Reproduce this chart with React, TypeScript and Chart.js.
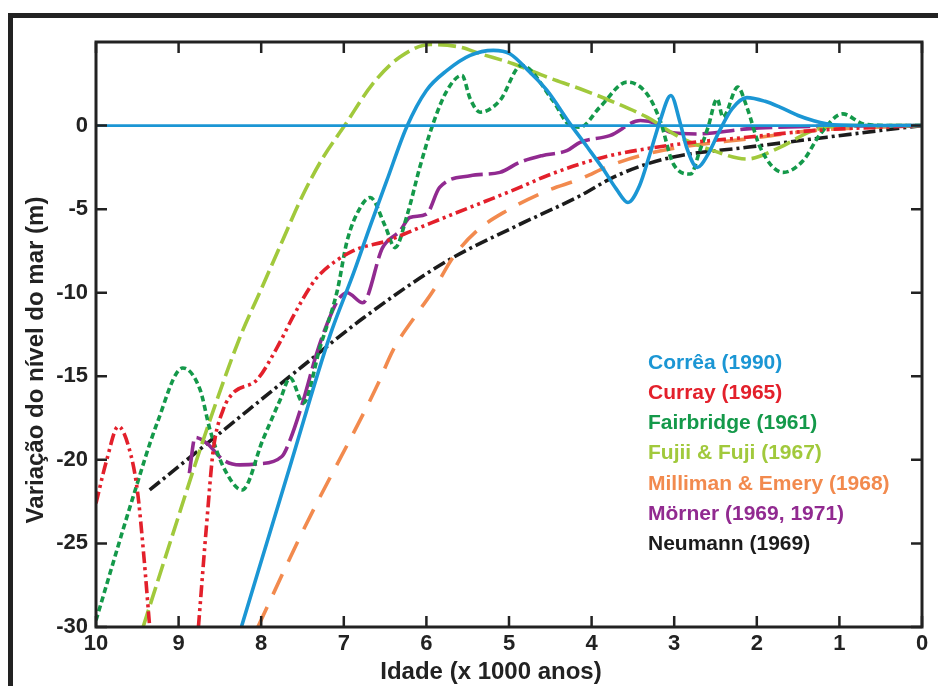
import React, { useEffect, useRef } from 'react';
import { Chart, registerables } from 'chart.js';

Chart.register(...registerables);

// ---------- data ----------
const SERIES_NAMES = [
  'Corrêa (1990)',
  'Curray (1965)',
  'Fairbridge (1961)',
  'Fujii & Fuji (1967)',
  'Milliman & Emery (1968)',
  'Mörner (1969, 1971)',
  'Neumann (1969)',
];

const X_TICKS = [10, 9, 8, 7, 6, 5, 4, 3, 2, 1, 0];
const Y_TICKS = [0, -5, -10, -15, -20, -25, -30];

const CORREA_AGE = [8.24, 7.64, 7.17, 6.88, 6.68, 6.48, 6.24, 6.0, 5.75, 5.47, 5.19, 4.99, 4.75, 4.54, 4.26, 4.05, 3.86, 3.7, 3.56, 3.42, 3.3, 3.17, 3.04, 2.93, 2.85, 2.72, 2.6, 2.45, 2.3, 2.12, 1.9, 1.72, 1.5, 1.32, 1.08, 0.6, 0];
const CORREA_LEVEL = [-30, -20.2, -12.6, -8.8, -6.0, -3.3, -0.1, 2.1, 3.3, 4.2, 4.5, 4.3, 3.2, 2.1, 0.1, -1.3, -2.6, -3.8, -4.6, -3.6, -1.8, 0.3, 1.8, 0.2, -1.3, -2.5, -1.8, -0.3, 1.0, 1.67, 1.45, 1.1, 0.6, 0.3, 0.05, 0, 0];

const CURRAY_AGE = [10, 9.87, 9.73, 9.6, 9.5, 9.42, 9.35, 9.0, 8.76, 8.66, 8.58, 8.46, 8.34, 8.05, 7.81, 7.6, 7.4, 7.29, 6.89, 6.48, 6.08, 5.68, 5.27, 4.87, 4.54, 4.14, 3.78, 2.93, 2.12, 1.32, 0];
const CURRAY_LEVEL = [-22.6, -20.0, -18.0, -19.3, -21.8, -25.8, -30, null, -30, -23.8, -19.4, -17.0, -16.0, -15.2, -13.3, -11.3, -9.6, -8.9, -7.5, -6.9, -6.1, -5.3, -4.5, -3.7, -3.0, -2.3, -1.8, -1.1, -0.7, -0.3, 0];

const FAIRBRIDGE_AGE = [10, 9.55, 9.26, 8.95, 8.74, 8.62, 8.46, 8.23, 7.98, 7.77, 7.65, 7.49, 7.29, 7.08, 6.96, 6.8, 6.68, 6.5, 6.38, 6.23, 6.08, 5.92, 5.75, 5.57, 5.47, 5.35, 5.11, 4.85, 4.47, 4.26, 4.14, 3.9, 3.57, 3.33, 3.17, 3.01, 2.8, 2.69, 2.59, 2.48, 2.41, 2.23, 2.12, 1.96, 1.68, 1.44, 1.23, 0.96, 0.71, 0.4, 0];
const FAIRBRIDGE_LEVEL = [-29.6, -22.2, -17.8, -14.5, -15.8, -18.2, -20.4, -21.8, -18.8, -16.4, -15.1, -16.6, -13.3, -9.9, -6.9, -4.9, -4.3, -6.0, -7.3, -5.3, -2.5, 0.1, 2.1, 3.0, 1.6, 0.8, 1.5, 3.6, 1.5, 0, -0.1, 1.1, 2.6, 1.9, 0.3, -2.3, -2.9, -1.5, -0.1, 1.6, 0.5, 2.3, 1.1, -1.3, -2.8, -2.1, -0.5, 0.7, 0.1, 0, 0];

const FUJII_AGE = [9.43, 9.1, 8.66, 8.26, 8.01, 7.77, 7.5, 7.25, 6.99, 6.65, 6.32, 5.95, 5.6, 5.35, 4.95, 4.54, 4.14, 3.78, 3.33, 2.93, 2.53, 2.12, 1.72, 1.32, 0.91, 0];
const FUJII_LEVEL = [-30, -24.9, -18.2, -12.7, -9.9, -7.2, -4.2, -1.9, 0, 2.5, 4.1, 4.85, 4.7, 4.3, 3.7, 2.9, 2.2, 1.5, 0.5, -0.7, -1.5, -2.0, -1.3, -0.3, 0, 0];

const MILLIMAN_AGE = [8.04, 7.49, 6.6, 6.4, 6.12, 5.92, 5.68, 5.39, 5.03, 4.54, 4.14, 3.78, 3.41, 2.93, 2.12, 1.32, 0];
const MILLIMAN_LEVEL = [-30, -24.2, -15.6, -13.4, -11.3, -9.9, -7.9, -6.3, -5.1, -3.9, -3.2, -2.4, -1.8, -1.3, -0.8, -0.3, 0];

const MORNER_AGE = [8.87, 8.8, 8.66, 8.46, 8.26, 8.05, 7.75, 7.65, 7.5, 7.32, 7.13, 7.05, 6.96, 6.77, 6.53, 6.32, 6.2, 6.0, 5.84, 5.47, 5.11, 4.87, 4.6, 4.3, 4.14, 3.78, 3.41, 3.21, 3.05, 2.72, 2.12, 1.32, 0];
const MORNER_LEVEL = [-20.8, -18.65, -19.0, -20.0, -20.3, -20.25, -19.8, -18.8, -16.6, -13.5, -11.0, -10.3, -10.0, -10.6, -7.3, -6.3, -5.5, -5.3, -3.7, -3.0, -2.8, -2.2, -1.8, -1.5, -1.0, -0.6, 0.3, 0.1, -0.4, -0.5, -0.2, -0.05, 0];

const NEUMANN_AGE = [9.35, 8.5, 7.5, 6.76, 5.75, 4.95, 4.14, 3.74, 3.33, 2.93, 2.12, 1.32, 0.51, 0];
const NEUMANN_LEVEL = [-21.8, -18.4, -14.4, -11.5, -8.1, -6.1, -4.2, -3.1, -2.3, -1.8, -1.3, -0.8, -0.3, 0];

const ZERO_AGE = [10, 0];
const ZERO_LEVEL = [0, 0];

// ---------- styles ----------
const COLORS = ['#1b96d4', '#e3202b', '#14994a', '#a1c93c', '#f28a4e', '#912a90', '#1c1c1c'];
const DASHES: number[][] = [
  [],
  [12, 4, 3, 4, 3, 4],
  [6, 3.5],
  [18, 6],
  [22, 14],
  [32, 6],
  [13, 4, 3, 4],
];
const FONT = '"Liberation Sans", Arial, sans-serif';
const INK = '#222222';

const zip = (a: number[], b: (number | null)[]) => a.map((x, i) => ({ x, y: b[i] }));

const decorPlugin = {
  id: 'decor',
  afterDraw(chart: any) {
    const { ctx, chartArea: ca, scales } = chart;
    const xs = scales.x;
    const ys = scales.y;
    ctx.save();
    // outer border (cropped frame)
    ctx.fillStyle = INK;
    ctx.fillRect(8, 13, 940, 5);
    ctx.fillRect(8, 13, 5, 700);
    // axes frame
    ctx.strokeStyle = INK;
    ctx.lineWidth = 3;
    ctx.strokeRect(ca.left, ca.top, ca.right - ca.left, ca.bottom - ca.top);
    // inward ticks
    ctx.lineWidth = 2.5;
    const tl = 11;
    X_TICKS.forEach((v) => {
      const p = xs.getPixelForValue(v);
      ctx.beginPath();
      ctx.moveTo(p, ca.bottom);
      ctx.lineTo(p, ca.bottom - tl);
      ctx.moveTo(p, ca.top);
      ctx.lineTo(p, ca.top + tl);
      ctx.stroke();
    });
    Y_TICKS.forEach((v) => {
      const p = ys.getPixelForValue(v);
      ctx.beginPath();
      ctx.moveTo(ca.left, p);
      ctx.lineTo(ca.left + tl, p);
      ctx.moveTo(ca.right, p);
      ctx.lineTo(ca.right - tl, p);
      ctx.stroke();
    });
    // axis titles
    ctx.fillStyle = INK;
    ctx.font = `bold 24px ${FONT}`;
    ctx.textAlign = 'center';
    ctx.textBaseline = 'middle';
    ctx.fillText('Idade (x 1000 anos)', 491, 672);
    ctx.save();
    ctx.translate(36, 360);
    ctx.rotate(-Math.PI / 2);
    ctx.fillText('Variação do nível do mar (m)', 0, 0);
    ctx.restore();
    // legend
    ctx.font = `bold 21px ${FONT}`;
    ctx.textAlign = 'left';
    SERIES_NAMES.forEach((name, i) => {
      ctx.fillStyle = COLORS[i];
      ctx.fillText(name, 648, 363 + i * 30.2);
    });
    ctx.restore();
  },
};

export default function App() {
  const ref = useRef<HTMLCanvasElement | null>(null);
  useEffect(() => {
    if (!ref.current) return;
    const series = [
      zip(CORREA_AGE, CORREA_LEVEL),
      zip(CURRAY_AGE, CURRAY_LEVEL),
      zip(FAIRBRIDGE_AGE, FAIRBRIDGE_LEVEL),
      zip(FUJII_AGE, FUJII_LEVEL),
      zip(MILLIMAN_AGE, MILLIMAN_LEVEL),
      zip(MORNER_AGE, MORNER_LEVEL),
      zip(NEUMANN_AGE, NEUMANN_LEVEL),
    ];
    const datasets: any[] = series.map((data, i) => ({
      label: SERIES_NAMES[i],
      data,
      borderColor: COLORS[i],
      borderWidth: 3.6,
      borderDash: DASHES[i],
      borderCapStyle: 'butt',
      pointRadius: 0,
      cubicInterpolationMode: 'monotone',
      spanGaps: false,
      fill: false,
    }));
    datasets.splice(1, 0, {
      label: 'zero',
      data: zip(ZERO_AGE, ZERO_LEVEL),
      borderColor: COLORS[0],
      borderWidth: 2.8,
      pointRadius: 0,
      fill: false,
    });
    const chart = new Chart(ref.current, {
      type: 'line',
      data: { datasets },
      options: {
        animation: false,
        responsive: false,
        parsing: true,
        layout: { padding: { top: 42, right: 16, left: 0, bottom: 0 } },
        plugins: { legend: { display: false }, tooltip: { enabled: false } },
        scales: {
          x: {
            type: 'linear',
            reverse: true,
            min: 0,
            max: 10,
            grid: { display: false, drawTicks: false },
            border: { display: false },
            ticks: {
              stepSize: 1,
              padding: 4,
              color: INK,
              font: { family: FONT, size: 22, weight: 'bold' },
              maxRotation: 0,
            },
            afterFit: (s: any) => {
              s.height = 59;
            },
          },
          y: {
            type: 'linear',
            min: -30,
            max: 5,
            grid: { display: false, drawTicks: false },
            border: { display: false },
            ticks: {
              stepSize: 5,
              padding: 8,
              color: INK,
              font: { family: FONT, size: 22, weight: 'bold' },
              callback: (v: any) => (Number(v) > 0 ? '' : String(v)),
            },
            afterFit: (s: any) => {
              s.width = 96;
            },
          },
        },
      },
      plugins: [decorPlugin],
    });
    return () => chart.destroy();
  }, []);
  return (
    <div style={{ position: 'absolute', left: 0, top: 0, width: 938, height: 686, background: '#fff', overflow: 'hidden' }}>
      <canvas ref={ref} width={938} height={686} style={{ display: 'block' }} />
    </div>
  );
}
